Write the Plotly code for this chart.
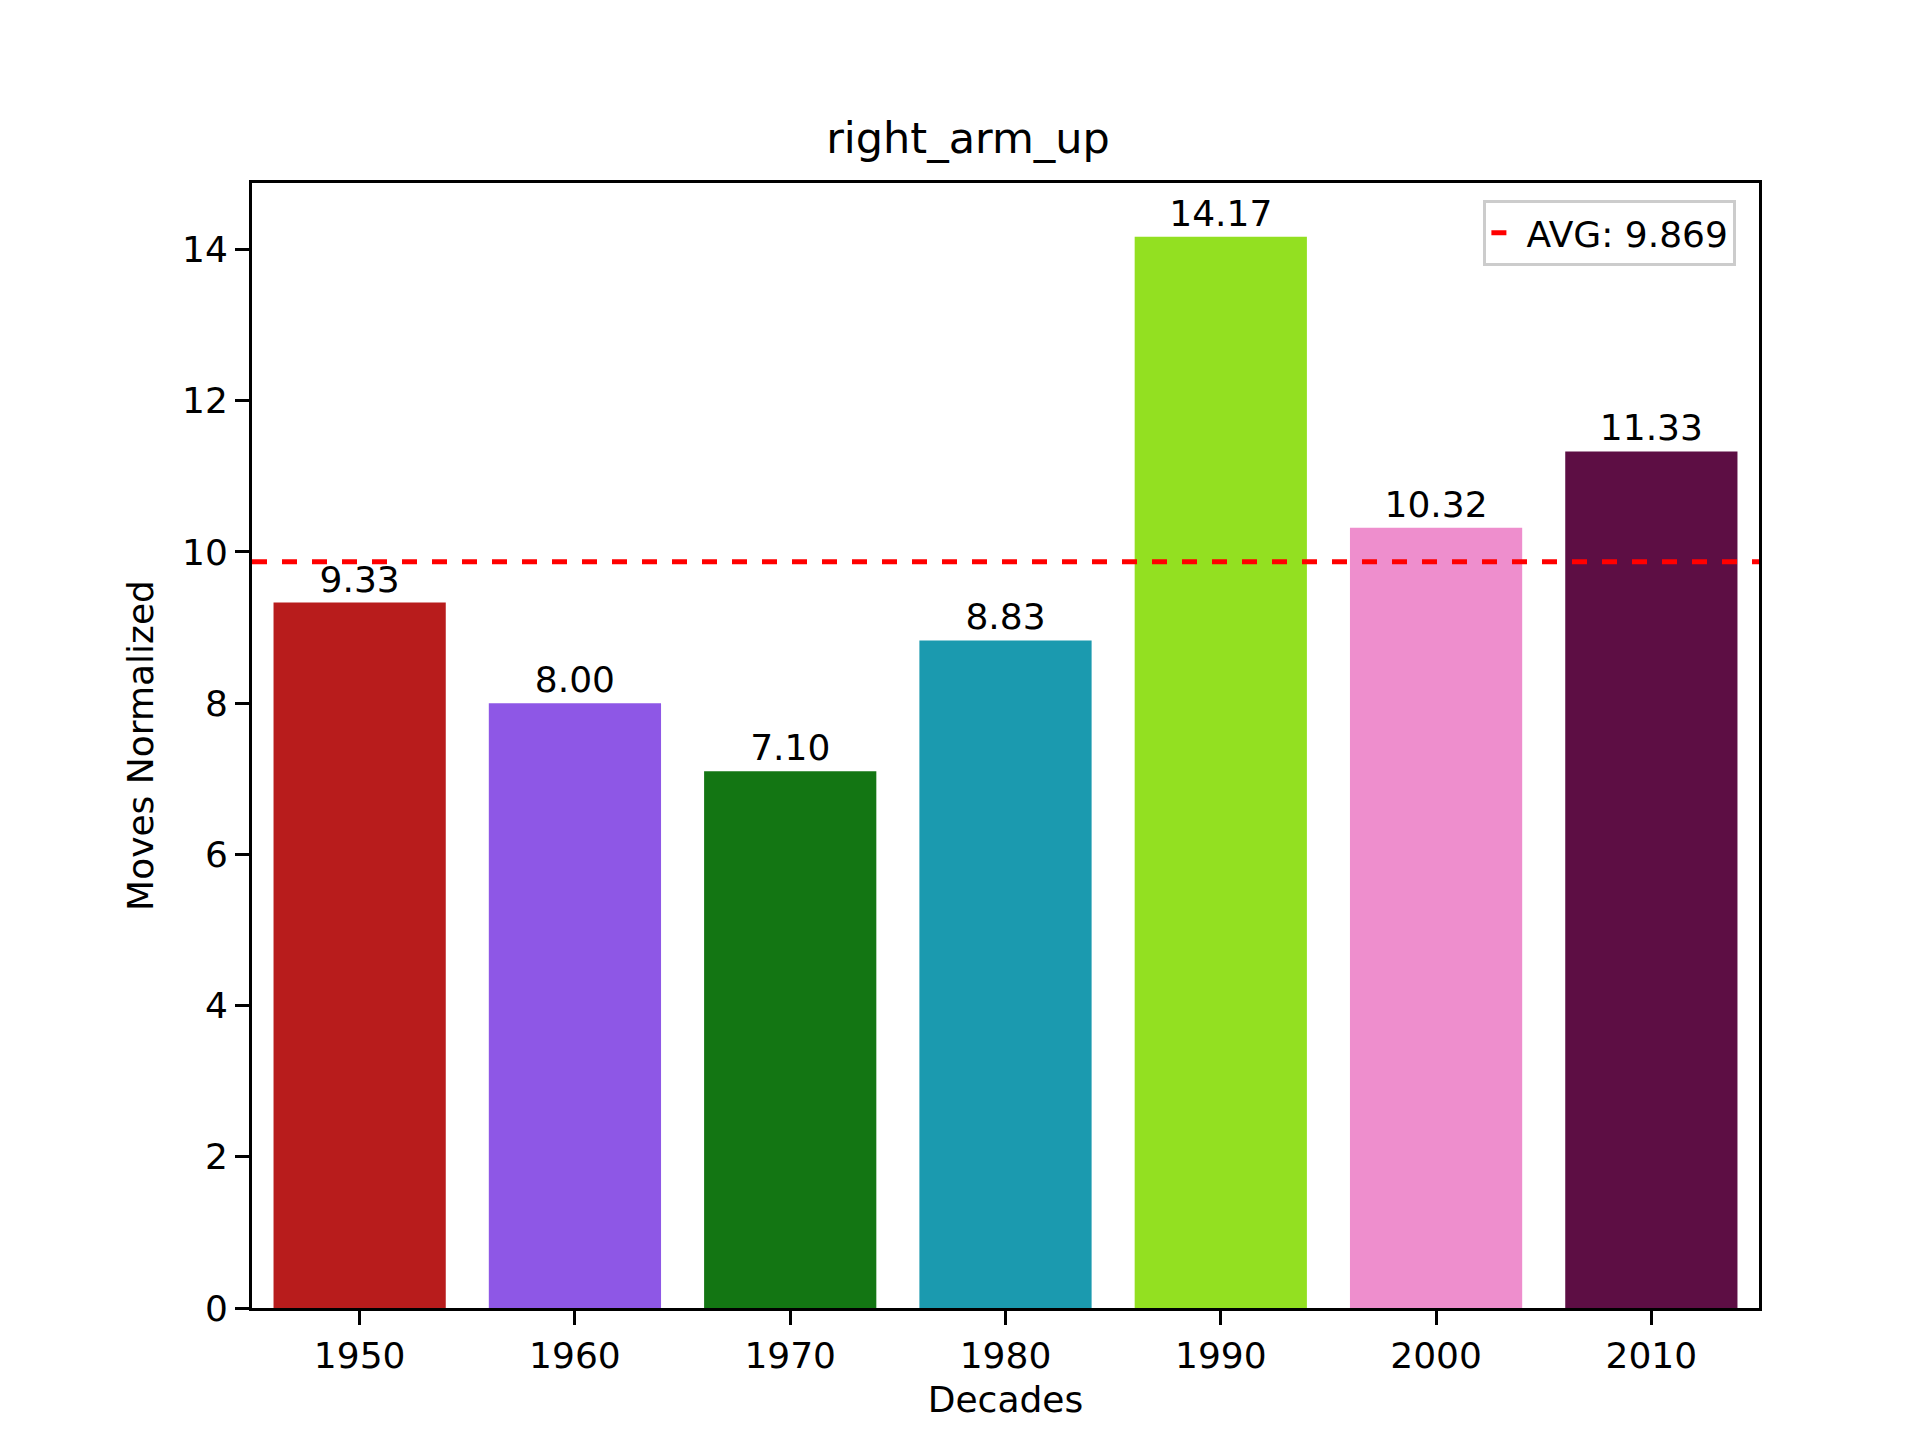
import plotly.graph_objects as go

decades = ["1950", "1960", "1970", "1980", "1990", "2000", "2010"]
values = [9.33, 8.00, 7.10, 8.83, 14.17, 10.32, 11.33]
colors = ["#B81C1C", "#8E57E6", "#137613", "#1B9AAF", "#93E021", "#EE8ECD", "#5D0E44"]
avg = 9.869

fig = go.Figure()
fig.add_trace(go.Bar(x=list(range(len(decades))), y=values, width=0.8, marker_color=colors,
                     marker_line_width=0, text=["%.2f" % v for v in values], textposition="outside",
                     textfont=dict(size=36, color="black"), cliponaxis=False, showlegend=False))
# avg line across the whole axis
fig.add_trace(go.Scatter(x=[-0.5, 6.5], y=[avg, avg], mode="lines", name="AVG: %.3f" % avg,
                         line=dict(color="red", width=5, dash="dash")))

axis_common = dict(showline=True, linecolor="black", linewidth=3, mirror=True, showgrid=False,
                   zeroline=False, ticks="outside", ticklen=14, tickwidth=3, tickcolor="black",
                   tickfont=dict(size=36, color="black"))
fig.update_layout(
    width=1920, height=1440, plot_bgcolor="white", paper_bgcolor="white",
    font=dict(family="DejaVu Sans", color="black"),
    margin=dict(l=244, r=169, t=175, b=140),
    title=dict(text="right_arm_up", x=0.5, xanchor="center", y=1 - 130 / 1440, yanchor="middle",
               font=dict(size=43)),
    xaxis=dict(range=[-0.5, 6.5], tickvals=list(range(len(decades))), ticktext=decades,
               title=dict(text="Decades", font=dict(size=36), standoff=12), **axis_common),
    yaxis=dict(range=[0, 14.88], dtick=2, title=dict(text="Moves Normalized", font=dict(size=36), standoff=18),
               **axis_common),
    legend=dict(x=0.985, y=0.985, xanchor="right", yanchor="top", bgcolor="white",
                bordercolor="#CCCCCC", borderwidth=3, font=dict(size=36)),
)
fig.write_html("out.html")
